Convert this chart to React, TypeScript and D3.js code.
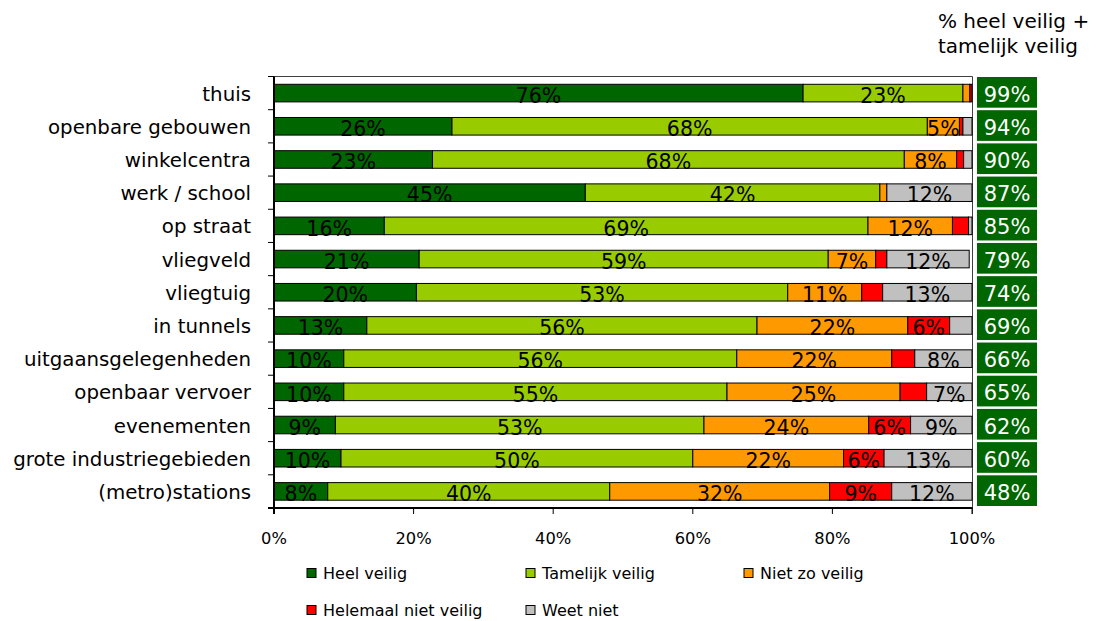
import * as d3 from "d3";
import React from "react";

const categories = [
  "thuis",
  "openbare gebouwen",
  "winkelcentra",
  "werk / school",
  "op straat",
  "vliegveld",
  "vliegtuig",
  "in tunnels",
  "uitgaansgelegenheden",
  "openbaar vervoer",
  "evenementen",
  "grote industriegebieden",
  "(metro)stations",
];

const heelVeilig = [75.8, 25.5, 22.7, 44.6, 15.8, 20.8, 20.4, 13.3, 10.0, 10.0, 8.8, 9.6, 7.7];
const tamelijkVeilig = [22.9, 68.1, 67.6, 42.2, 69.3, 58.6, 53.2, 55.9, 56.3, 54.9, 52.8, 50.4, 40.4];
const nietZoVeilig = [1.0, 4.6, 7.5, 1.0, 12.1, 6.8, 10.6, 21.6, 22.2, 24.8, 23.6, 21.6, 31.5];
const helemaalNietVeilig = [0.3, 0.5, 1.0, 0.0, 2.3, 1.6, 3.0, 6.0, 3.3, 3.8, 6.0, 5.8, 8.9];
const weetNiet = [0.0, 1.3, 1.2, 12.2, 0.5, 11.8, 12.8, 3.2, 8.2, 6.5, 8.8, 12.6, 11.5];

const seriesNames = ["Heel veilig", "Tamelijk veilig", "Niet zo veilig", "Helemaal niet veilig", "Weet niet"];
const seriesColors = ["#006600", "#99cc00", "#ff9900", "#ff0000", "#c0c0c0"];
const xTicks = [0, 20, 40, 60, 80, 100];
const headerLines = ["% heel veilig +", "tamelijk veilig"];

const W = 1098;
const H = 621;
const left = 274;
const right = 972;
const top = 76.5;
const bottom = 508;
const font = "'DejaVu Sans', Verdana, sans-serif";

const seriesValues = [heelVeilig, tamelijkVeilig, nietZoVeilig, helemaalNietVeilig, weetNiet];

const rows = categories.map((c, i) => {
  const r: Record<string, any> = { category: c };
  seriesNames.forEach((s, k) => (r[s] = seriesValues[k][i]));
  return r;
});

export default function App() {
  const x = d3.scaleLinear().domain([0, 100]).range([left, right]);
  const y = d3
    .scaleBand()
    .domain(categories)
    .range([top, bottom])
    .paddingInner(0.47)
    .paddingOuter(0.235);
  const step = y.step();
  const bh = y.bandwidth();

  const stacked = d3.stack<Record<string, any>>().keys(seriesNames)(rows);

  const legendCols = [307, 526, 744];
  const legendRows = [573, 610];

  return (
    <svg
      width={W}
      height={H}
      style={{ position: "absolute", left: 0, top: 0, background: "#fff" }}
      fontFamily={font}
    >
      {/* header */}
      {headerLines.map((t, i) => (
        <text key={t} x={938} y={28 + i * 25} fontSize={20} fill="#000">
          {t}
        </text>
      ))}

      {/* plot frame */}
      <line x1={left} x2={right + 0.5} y1={top} y2={top} stroke="#404040" strokeWidth={1} />
      <line x1={right + 0.5} x2={right + 0.5} y1={top} y2={bottom + 6} stroke="#404040" strokeWidth={1} />

      {/* bars */}
      {stacked.map((s, k) => (
        <g key={s.key}>
          {s.map((d, i) => {
            const v = seriesValues[k][i];
            if (v <= 0) return null;
            const cat = categories[i];
            const y0 = y(cat)!;
            const x0 = x(d[0]);
            const x1 = x(d[1]);
            return (
              <g key={cat}>
                <rect
                  x={x0}
                  y={y0}
                  width={x1 - x0}
                  height={bh}
                  fill={seriesColors[k]}
                  stroke="#000"
                  strokeWidth={1}
                />
                {Math.round(v) >= 5 && (
                  <text
                    x={(x0 + x1) / 2}
                    y={y0 + bh + 1}
                    textAnchor="middle"
                    fontSize={20.5}
                    fill="#000"
                  >
                    {Math.round(v)}%
                  </text>
                )}
              </g>
            );
          })}
        </g>
      ))}

      {/* y axis */}
      <line x1={left} x2={left} y1={top} y2={bottom + 6} stroke="#000" strokeWidth={2} />
      {d3.range(categories.length + 1).map((i) => {
        const yy = top + i * step;
        return <line key={i} x1={left - 6} x2={left} y1={yy} y2={yy} stroke="#000" strokeWidth={1} />;
      })}
      {categories.map((c) => (
        <text
          key={c}
          x={251}
          y={y(c)! + bh / 2 + 7.5}
          textAnchor="end"
          fontSize={19.8}
          fill="#000"
        >
          {c}
        </text>
      ))}

      {/* x axis */}
      <line x1={left - 6} x2={right + 0.5} y1={bottom} y2={bottom} stroke="#000" strokeWidth={2} />
      {xTicks.map((t) => (
        <g key={t}>
          <line x1={x(t)} x2={x(t)} y1={bottom} y2={bottom + 6} stroke="#000" strokeWidth={1} />
          <text x={x(t)} y={543.5} textAnchor="middle" fontSize={16.3} fill="#000">
            {t}%
          </text>
        </g>
      ))}

      {/* totals */}
      {categories.map((c, i) => {
        const y0 = top + i * step;
        return (
          <g key={c}>
            <rect x={977} y={y0 + 0.5} width={60} height={step - 2.5} fill="#006600" />
            <text
              x={1007}
              y={y0 + step / 2 + 8.5}
              textAnchor="middle"
              fontSize={21}
              fill="#fff"
            >
              {Math.round(heelVeilig[i] + tamelijkVeilig[i])}%
            </text>
          </g>
        );
      })}

      {/* legend */}
      {seriesNames.map((s, k) => {
        const lx = legendCols[k % 3];
        const ly = legendRows[Math.floor(k / 3)];
        return (
          <g key={s}>
            <rect x={lx} y={ly - 4.5} width={9} height={9} fill={seriesColors[k]} stroke="#000" strokeWidth={1} />
            <text x={lx + 16} y={ly + 6} fontSize={16} fill="#000">
              {s}
            </text>
          </g>
        );
      })}
    </svg>
  );
}
